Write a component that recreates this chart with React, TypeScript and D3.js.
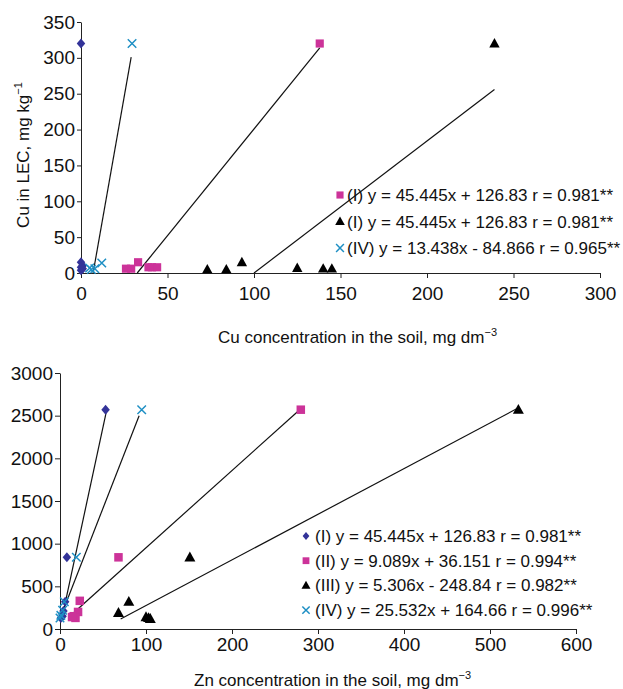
import React, { useEffect, useRef } from 'react';
import * as d3 from 'd3';

const BLUE = '#333399';
const PINK = '#cc3399';
const BLACK = '#000000';
const TEAL = '#1e8fc4';
const FONT = '"Liberation Sans", Arial, sans-serif';

// Cu panel (top): [soil, LEC]
const cuI = [[0, 320], [0, 15], [0, 8], [0, 4], [1, 10], [1, 6]];
const cuII = [[26, 6], [29, 6], [33, 15], [39, 8], [41, 8], [44, 8], [138, 320]];
const cuIII = [[73, 5], [84, 5], [93, 15], [125, 7], [140, 6], [145, 6], [239, 320]];
const cuIV = [[5, 7], [6, 5], [8, 6], [12, 14], [29.5, 320]];
// fitted lines: [x0, y0, x1, y1]
const cuFitII = [32.5, 0, 138, 314];
const cuFitIII = [100, 0, 239, 256];
const cuFitIV = [7, 0, 29, 301];
const cuXTicks = [0, 50, 100, 150, 200, 250, 300];
const cuYTicks = [0, 50, 100, 150, 200, 250, 300, 350];
const cuLegend = [
  '(I) y = 45.445x + 126.83 r = 0.981**',
  '(I) y = 45.445x + 126.83 r = 0.981**',
  '(IV) y = 13.438x - 84.866 r = 0.965**',
];

// Zn panel (bottom)
const znI = [[53, 2570], [8, 840], [6, 320], [4, 210], [3, 150], [1, 130]];
const znII = [[280, 2570], [68, 840], [23, 330], [21, 200], [16, 150], [18, 130], [14, 140]];
const znIII = [[533, 2570], [151, 840], [80, 320], [68, 190], [100, 140], [103, 130], [105, 120]];
const znIV = [[95, 2570], [19, 840], [5, 320], [3, 220], [1, 160], [0, 130]];
const znFitI = [2.5, 140, 53.5, 2530];
const znFitII = [15.6, 188, 281, 2590];
const znFitIII = [70.5, 117, 531, 2580];
const znFitIV = [1, 150, 92, 2500];
const znXTicks = [0, 100, 200, 300, 400, 500, 600];
const znYTicks = [0, 500, 1000, 1500, 2000, 2500, 3000];
const znLegend = [
  '(I) y = 45.445x + 126.83 r = 0.981**',
  '(II) y = 9.089x + 36.151 r = 0.994**',
  '(III) y = 5.306x - 248.84 r = 0.982**',
  '(IV) y = 25.532x + 164.66 r = 0.996**',
];

function marker(g, shape, color, x, y, s) {
  if (shape === 'diamond') {
    g.append('path')
      .attr('d', `M${x},${y - s}L${x + s * 0.85},${y}L${x},${y + s}L${x - s * 0.85},${y}Z`)
      .attr('fill', color);
  } else if (shape === 'square') {
    g.append('rect')
      .attr('x', x - s * 0.85).attr('y', y - s * 0.85)
      .attr('width', s * 1.7).attr('height', s * 1.7)
      .attr('fill', color);
  } else if (shape === 'triangle') {
    g.append('path')
      .attr('d', `M${x},${y - s * 1.05}L${x + s},${y + s * 0.75}L${x - s},${y + s * 0.75}Z`)
      .attr('fill', color);
  } else {
    const r = s * 0.85;
    g.append('path')
      .attr('d', `M${x - r},${y - r}L${x + r},${y + r}M${x - r},${y + r}L${x + r},${y - r}`)
      .attr('stroke', color).attr('stroke-width', 1.5).attr('fill', 'none');
  }
}

function drawPanel(svg, p) {
  const x = d3.scaleLinear().domain([0, p.xMax]).range([p.left, p.right]);
  const y = d3.scaleLinear().domain([0, p.yMax]).range([p.bottom, p.top]);

  const xAxis = svg.append('g')
    .attr('transform', `translate(0,${p.bottom})`)
    .call(d3.axisBottom(x).tickValues(p.xTicks).tickFormat(d3.format('d'))
      .tickSizeInner(5).tickSizeOuter(0).tickPadding(p.xPad));
  const yAxis = svg.append('g')
    .attr('transform', `translate(${p.left},0)`)
    .call(d3.axisLeft(y).tickValues(p.yTicks).tickFormat(d3.format('d'))
      .tickSizeInner(p.yTick).tickSizeOuter(0).tickPadding(p.yPad));
  [xAxis, yAxis].forEach(a => {
    a.selectAll('text').style('font', `19px ${FONT}`).attr('fill', '#111');
    a.selectAll('line,path').attr('stroke', '#222');
  });

  p.fits.forEach(f => {
    svg.append('line')
      .attr('x1', x(f[0])).attr('y1', y(f[1]))
      .attr('x2', x(f[2])).attr('y2', y(f[3]))
      .attr('stroke', '#111').attr('stroke-width', 1.2);
  });

  p.series.forEach(s => {
    s.pts.forEach(d => marker(svg, s.shape, s.color, x(d[0]), y(d[1]), s.size));
  });

  p.legend.forEach((item, i) => {
    const by = p.legY + i * p.legDy;
    marker(svg, item.shape, item.color, p.legX, by - 6, item.size);
    svg.append('text')
      .attr('x', p.legX + p.legGap).attr('y', by)
      .style('font', `17px ${FONT}`).attr('fill', '#111')
      .text(item.text);
  });

  const t = svg.append('text')
    .attr('x', p.titleX).attr('y', p.titleY)
    .style('font', `17px ${FONT}`).attr('fill', '#111');
  t.append('tspan').text(p.title);
  t.append('tspan').attr('dy', -7).style('font-size', '11px').text('−3');
}

export default function App() {
  const svgRef = useRef(null);

  useEffect(() => {
    const svg = d3.select(svgRef.current);
    svg.selectAll('*').remove();

    drawPanel(svg, {
      left: 81, right: 600, top: 22, bottom: 273,
      xMax: 300, yMax: 350, xTicks: cuXTicks, yTicks: cuYTicks,
      xPad: 9, yTick: 4, yPad: 2,
      fits: [cuFitII, cuFitIII, cuFitIV],
      series: [
        { pts: cuI, shape: 'diamond', color: BLUE, size: 5 },
        { pts: cuII, shape: 'square', color: PINK, size: 4.8 },
        { pts: cuIII, shape: 'triangle', color: BLACK, size: 5.2 },
        { pts: cuIV, shape: 'x', color: TEAL, size: 5 },
      ],
      legX: 340, legY: 201, legDy: 26.5, legGap: 7,
      legend: [
        { shape: 'square', color: PINK, size: 4.2, text: cuLegend[0] },
        { shape: 'triangle', color: BLACK, size: 4.8, text: cuLegend[1] },
        { shape: 'x', color: TEAL, size: 4.6, text: cuLegend[2] },
      ],
      title: 'Cu concentration in the soil, mg dm', titleX: 218, titleY: 343,
    });

    drawPanel(svg, {
      left: 60, right: 576, top: 373, bottom: 629,
      xMax: 600, yMax: 3000, xTicks: znXTicks, yTicks: znYTicks,
      xPad: 4, yTick: 5, yPad: 2,
      fits: [znFitI, znFitII, znFitIII, znFitIV],
      series: [
        { pts: znI, shape: 'diamond', color: BLUE, size: 5 },
        { pts: znII, shape: 'square', color: PINK, size: 5 },
        { pts: znIII, shape: 'triangle', color: BLACK, size: 5.5 },
        { pts: znIV, shape: 'x', color: TEAL, size: 5 },
      ],
      legX: 306, legY: 542, legDy: 24.7, legGap: 9,
      legend: [
        { shape: 'diamond', color: BLUE, size: 4, text: znLegend[0] },
        { shape: 'square', color: PINK, size: 4, text: znLegend[1] },
        { shape: 'triangle', color: BLACK, size: 4.5, text: znLegend[2] },
        { shape: 'x', color: TEAL, size: 4.3, text: znLegend[3] },
      ],
      title: 'Zn concentration in the soil, mg dm', titleX: 194, titleY: 686,
    });

    const yt = svg.append('text')
      .attr('transform', 'translate(29,155) rotate(-90)')
      .attr('text-anchor', 'middle')
      .style('font', `17px ${FONT}`).attr('fill', '#111');
    yt.append('tspan').text('Cu in LEC, mg kg');
    yt.append('tspan').attr('dy', -7).style('font-size', '11px').text('−1');
  }, []);

  return (
    <svg
      ref={svgRef}
      width={623}
      height={689}
      style={{ position: 'absolute', left: 0, top: 0, background: '#fff' }}
    />
  );
}
